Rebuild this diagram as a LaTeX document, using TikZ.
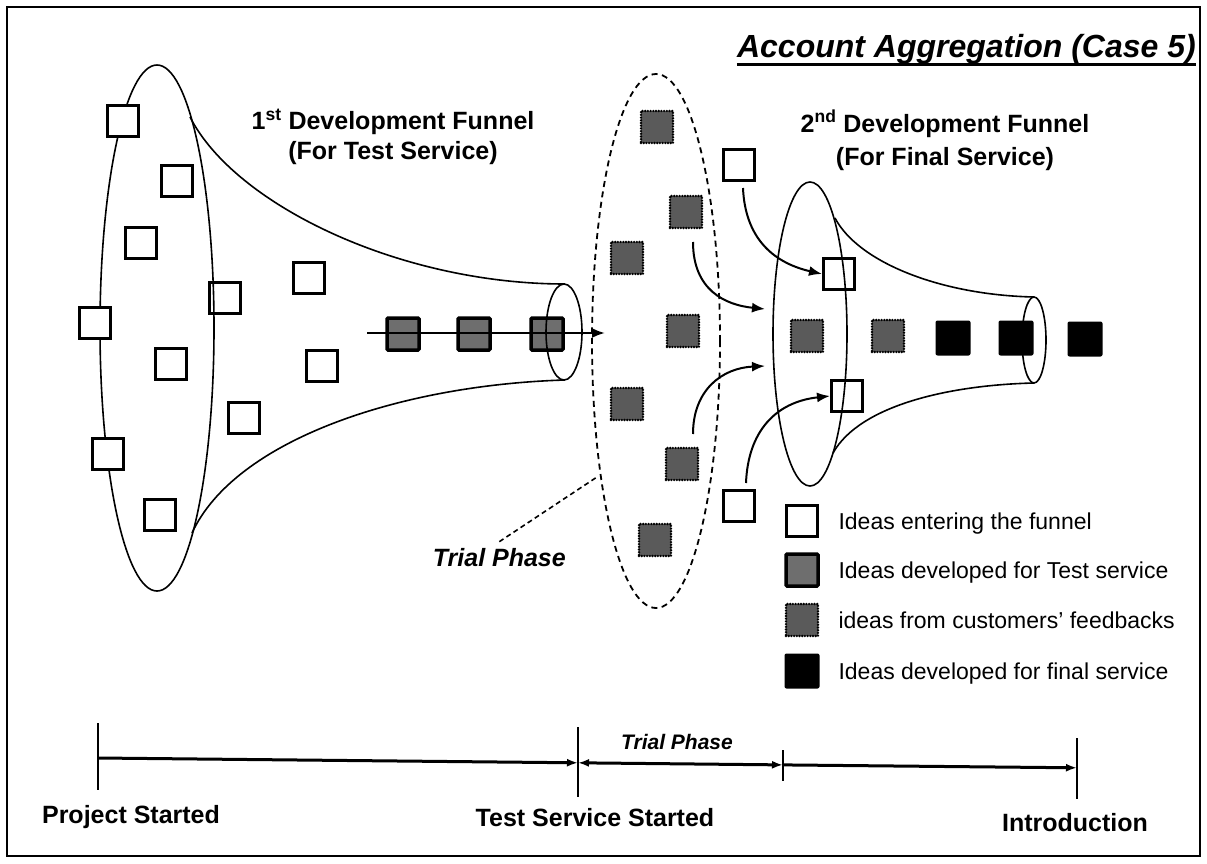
\documentclass[tikz,border=0pt]{standalone}
\usepackage{fontspec}
\setmainfont{Liberation Sans}
\usetikzlibrary{arrows.meta}
\definecolor{devgray}{HTML}{6E6E6E}
\definecolor{fbgray}{HTML}{5A5A5A}
\begin{document}
\begin{tikzpicture}[x=1pt,y=-1pt,
  funnel/.style={line width=1.6pt},
  wsq/.style={draw, line width=3pt, fill=white, minimum size=31pt, inner sep=0pt},
  osq/.style={draw, line width=3pt, minimum size=31pt, inner sep=0pt},
  devsq/.style={draw, line width=3.5pt, fill=devgray, minimum size=32pt, inner sep=0pt, rounded corners=1pt},
  fbsq/.style={draw, fill=fbgray, line width=2.6pt, dash pattern=on 0pt off 2.7pt, line cap=round, minimum size=32pt, inner sep=0pt},
  blsq/.style={fill=black, minimum size=35pt, inner sep=0pt, rounded corners=2pt},
  curarrow/.style={line width=2pt, -{Latex[length=13pt,width=10pt]}},
  tl/.style={line width=3pt},
  tick/.style={line width=2.5pt},
  tip/.style={-{Latex[length=11pt,width=8pt]}},
  bigbold/.style={font=\fontsize{25}{29}\selectfont\bfseries},
  legtext/.style={font=\fontsize{23}{27}\selectfont, anchor=base west}
]
\useasboundingbox (0,0) rectangle (1207,864);
\draw[line width=2pt] (7,7) rectangle (1200,856);

% title
\node[font=\fontsize{32}{38}\selectfont\bfseries\itshape, anchor=base east, inner sep=0pt] (title) at (1196,58) {Account Aggregation (Case 5)};
\draw[line width=3pt] ([yshift=-6.5pt]title.base west) -- ([yshift=-6.5pt]title.base east);

% funnel labels
\node[bigbold, anchor=base, inner sep=0pt] (f1a) at (393,130) {1\textsuperscript{st} Development Funnel};
\node[bigbold, anchor=base, inner sep=0pt] (f1b) at (393,160) {(For Test Service)};
\node[bigbold, anchor=base, inner sep=0pt] (f2a) at (945,132) {2\textsuperscript{nd} Development Funnel};
\node[bigbold, anchor=base, inner sep=0pt] (f2b) at (945,165) {(For Final Service)};

% ===== 1st funnel =====
\draw[funnel] (157,328) ellipse [x radius=57pt, y radius=263pt];
\draw[funnel] (190,117) .. controls (235,205) and (400,284) .. (565,284);
\draw[funnel] (192,533) .. controls (235,440) and (400,385) .. (565,380);

\node[wsq] (s1) at (123,121) {};
\node[wsq] (s2) at (177,181) {};
\node[wsq] (s3) at (141,243) {};
\node[osq] (s4) at (225,298) {};
\node[wsq] (s5) at (309,278) {};
\node[wsq] (s6) at (95,323) {};
\node[wsq] (s7) at (171,364) {};
\node[wsq] (s8) at (322,366) {};
\node[wsq] (s9) at (244,418) {};
\node[wsq] (s10) at (108,454) {};
\node[wsq] (s11) at (160,515) {};

\node[devsq] (d1) at (403,334) {};
\node[devsq] (d2) at (474,334) {};
\node[devsq] (d3) at (547,334) {};
\draw[funnel] (564,332) ellipse [x radius=18pt, y radius=48pt];
\coordinate (rowstart) at (367,333);
\coordinate (rowend) at (605,333);
\draw[line width=2.2pt, -{Latex[length=13pt,width=10pt]}] (rowstart) -- (rowend);

% ===== trial phase =====
\draw[line width=1.8pt, dash pattern=on 6pt off 4.5pt] (656,341) ellipse [x radius=64pt, y radius=267pt];
\node[fbsq] (b1) at (657,127) {};
\node[fbsq] (b2) at (686,212) {};
\node[fbsq] (b3) at (627,258) {};
\node[fbsq] (b4) at (683,331) {};
\node[fbsq] (b5) at (627,404) {};
\node[fbsq] (b6) at (682,464) {};
\node[fbsq] (b7) at (655,540) {};
\node[font=\fontsize{25}{29}\selectfont\bfseries\itshape, anchor=base east, inner sep=0pt] (trial) at (566,566) {Trial Phase};
\coordinate (leadend) at (597,477);
\draw[line width=1.6pt, dash pattern=on 5pt off 3.5pt] ([yshift=6pt]trial.north) -- (leadend);

% ===== 2nd funnel =====
\draw[funnel] (810,334) ellipse [x radius=37pt, y radius=152pt];
\draw[funnel] (835,218) .. controls (858,262) and (940,295) .. (1034,297);
\draw[funnel] (833,453) .. controls (860,405) and (950,385) .. (1034,383);

\node[wsq] (w1) at (739,165) {};
\node[osq] (w2) at (839,274) {};
\node[osq] (w3) at (847,396) {};
\node[wsq] (w4) at (739,506) {};

\node[fbsq] (g1) at (807,336) {};
\node[fbsq] (g2) at (888,336) {};
\node[blsq] (k1) at (953,338) {};
\node[blsq] (k2) at (1016,338) {};
\node[blsq] (k3) at (1085,339) {};
\draw[funnel] (1034,340) ellipse [x radius=12pt, y radius=43pt];

% curved arrows
\coordinate (a2s) at (693,242);
\coordinate (a2e) at (765,309);
\coordinate (a3s) at (693,434);
\coordinate (a3e) at (765,366);
\draw[curarrow] ([xshift=4pt,yshift=-6pt]w1.south) .. controls (745,235) and (770,262) .. (w2.west);
\draw[curarrow] (a2s) .. controls (693,290) and (725,305) .. (a2e);
\draw[curarrow] (a3s) .. controls (693,390) and (722,368) .. (a3e);
\draw[curarrow] ([xshift=7pt,yshift=6pt]w4.north) .. controls (748,432) and (775,402) .. (w3.west);

% ===== legend =====
\node[wsq] (l1) at (802,521) {};
\node[legtext] (lt1) at (835,529) {Ideas entering the funnel};
\node[devsq] (l2) at (802,570) {};
\node[legtext] (lt2) at (835,578) {Ideas developed for Test service};
\node[fbsq] (l3) at (802,620) {};
\node[legtext] (lt3) at (835,628) {ideas from customers’ feedbacks};
\node[blsq] (l4) at (802,671) {};
\node[legtext] (lt4) at (835,679) {Ideas developed for final service};

% ===== timeline =====
\coordinate (p) at (98,758);
\coordinate (t) at (578,762.8);
\coordinate (r) at (783,764.9);
\coordinate (i) at (1077,767.8);
\draw[tick] (98,723) -- (98,790);
\draw[tick] (578,727) -- (578,797);
\draw[tick] (783,750) -- (783,781);
\draw[tick] (1077,738) -- (1077,799);
\draw[tl, tip] (p) -- (t);
\draw[tl, {Latex[length=11pt,width=8pt]}-{Latex[length=11pt,width=8pt]}] (t) -- (r);
\draw[tl, tip] (r) -- (i);
\node[font=\fontsize{21}{25}\selectfont\bfseries\itshape, anchor=base, inner sep=0pt] (ttrial) at (677,749) {Trial Phase};
\node[bigbold, anchor=base, inner sep=0pt] (lp) at (131,823) {Project Started};
\node[bigbold, anchor=base, inner sep=0pt] (lt) at (595,826) {Test Service Started};
\node[bigbold, anchor=base, inner sep=0pt] (li) at (1075,831) {Introduction};
\end{tikzpicture}
\end{document}
